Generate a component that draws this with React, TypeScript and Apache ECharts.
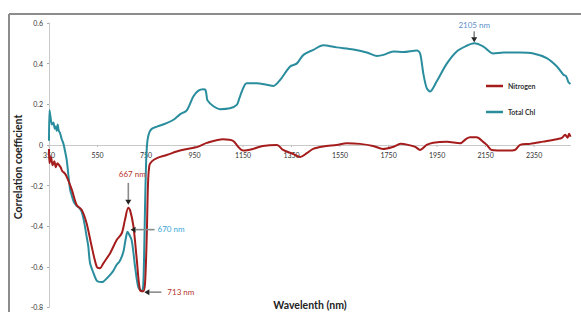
import React, { useEffect, useRef } from "react";
import * as echarts from "echarts";

// ---- Data ----
const wlChl = [
  350, 352, 356, 362, 368, 374, 378, 382, 386, 390, 395, 402, 409, 416, 423, 430, 437, 444, 452, 464,
  475, 485, 495, 505, 512, 519, 533, 545, 553, 565, 574, 590, 602, 615, 629, 640, 650, 658, 663, 670,
  674, 680, 691, 705, 718, 732, 738, 742, 746, 750, 753, 757, 765, 775, 795, 835, 865, 890, 918, 945,
  966, 986, 995, 1000, 1003, 1028, 1055, 1096, 1124, 1135, 1145, 1165, 1206, 1248, 1275, 1303, 1344, 1371, 1399, 1440,
  1481, 1536, 1605, 1660, 1701, 1729, 1770, 1811, 1866, 1880, 1893, 1907, 1921, 1948, 1990, 2031, 2072, 2103, 2141, 2182,
  2223, 2292, 2347, 2402, 2444, 2471, 2480, 2485, 2491, 2500,
];
const totalChl = [
  0.02, 0.17, 0.14, 0.1, 0.11, 0.08, 0.09, 0.07, 0.1, 0.07, 0.06, 0.03, 0.008, -0.03, -0.074, -0.15, -0.22, -0.25, -0.28, -0.3,
  -0.31, -0.33, -0.38, -0.45, -0.5, -0.58, -0.63, -0.665, -0.673, -0.675, -0.673, -0.655, -0.64, -0.62, -0.59, -0.575, -0.55, -0.52, -0.484, -0.44,
  -0.427, -0.44, -0.47, -0.6, -0.7, -0.72, -0.7, -0.55, -0.3, -0.1, -0.02, 0.03, 0.065, 0.08, 0.09, 0.107, 0.125, 0.15, 0.17, 0.238,
  0.267, 0.274, 0.27, 0.24, 0.22, 0.19, 0.176, 0.18, 0.197, 0.23, 0.263, 0.304, 0.304, 0.296, 0.29, 0.32, 0.386, 0.4, 0.443, 0.468,
  0.49, 0.48, 0.47, 0.455, 0.438, 0.443, 0.46, 0.457, 0.465, 0.45, 0.353, 0.28, 0.263, 0.312, 0.4, 0.46, 0.488, 0.5, 0.484, 0.45,
  0.455, 0.455, 0.45, 0.427, 0.386, 0.345, 0.34, 0.33, 0.31, 0.3,
];

const wlN = [
  350, 352, 358, 365, 372, 378, 385, 392, 398, 405, 415, 423, 444, 464, 485, 505, 526, 547, 560, 574,
  602, 629, 650, 663, 677, 684, 698, 712, 725, 739, 746, 753, 758, 764, 775, 795, 835, 890, 952, 973,
  1000, 1068, 1109, 1129, 1150, 1191, 1232, 1290, 1315, 1356, 1385, 1413, 1439, 1480, 1536, 1578, 1632, 1686, 1727, 1768,
  1800, 1830, 1860, 1880, 1907, 1934, 1990, 2045, 2070, 2086, 2113, 2140, 2155, 2175, 2237, 2271, 2292, 2333, 2387, 2444,
  2465, 2478, 2488, 2494, 2500,
];
const nitrogen = [
  -0.02, -0.09, -0.06, -0.1, -0.08, -0.11, -0.09, -0.1, -0.11, -0.13, -0.14, -0.156, -0.22, -0.296, -0.32, -0.386, -0.5, -0.6, -0.607, -0.583,
  -0.533, -0.468, -0.435, -0.37, -0.31, -0.32, -0.4, -0.566, -0.714, -0.72, -0.68, -0.45, -0.2, -0.1, -0.08, -0.065, -0.05, -0.028, -0.013, -0.005,
  0.01, 0.028, 0.02, -0.008, -0.028, -0.02, -0.005, 0, -0.025, -0.044, -0.06, -0.041, -0.02, -0.008, 0, 0.008, 0.005, -0.005, -0.02, -0.01,
  0.005, 0, -0.01, -0.025, 0, 0.011, 0.016, 0.008, 0.03, 0.038, 0.038, 0.015, 0, -0.025, -0.028, -0.025, 0, 0.005, 0.016, 0.028,
  0.035, 0.05, 0.035, 0.055, 0.04,
];

const xTickValues = [350, 550, 750, 950, 1150, 1350, 1550, 1750, 1950, 2150, 2350];
const seriesNames = ["Nitrogen", "Total Chl"];

// Annotated wavelengths: label, series point [wavelength, value]
const annotations = [
  { label: "667 nm", point: [677, -0.31], kind: "down", color: "#b8322c" },
  { label: "670 nm", point: [674, -0.427], kind: "left", color: "#3aa7d8" },
  { label: "713 nm", point: [739, -0.72], kind: "left2", color: "#b8322c" },
  { label: "2105 nm", point: [2103, 0.5], kind: "down2", color: "#5b8fc8" },
];

const FONT = "Lato, 'Liberation Sans', sans-serif";

function arrow(x1: number, y1: number, x2: number, y2: number) {
  const dx = x2 - x1;
  const dy = y2 - y1;
  const len = Math.sqrt(dx * dx + dy * dy) || 1;
  const ux = dx / len;
  const uy = dy / len;
  const hl = 5;
  const hw = 3;
  const bx = x2 - ux * hl;
  const by = y2 - uy * hl;
  return [
    {
      type: "line",
      shape: { x1, y1, x2: bx, y2: by },
      style: { stroke: "#8a8a8a", lineWidth: 1.6 },
      z: 100,
    },
    {
      type: "polygon",
      shape: {
        points: [
          [x2, y2],
          [bx - uy * hw, by + ux * hw],
          [bx + uy * hw, by - ux * hw],
        ],
      },
      style: { fill: "#222" },
      z: 100,
    },
  ];
}

export default function App() {
  const ref = useRef<HTMLDivElement>(null);

  useEffect(() => {
    if (!ref.current) return;
    const chart = echarts.init(ref.current, null, { renderer: "svg" });
    const chlData = wlChl.map((w, i) => [w, totalChl[i]]);
    const nData = wlN.map((w, i) => [w, nitrogen[i]]);

    chart.setOption({
      animation: false,
      backgroundColor: "#ffffff",
      grid: { left: 49, right: 10.5, top: 23, bottom: 4.6, containLabel: false, outerBoundsMode: "none" },
      legend: {
        data: seriesNames,
        orient: "vertical",
        left: 481,
        top: 76,
        icon: "rect",
        itemWidth: 17,
        itemHeight: 2.5,
        itemGap: 16,
        textStyle: { fontSize: 7, fontWeight: "bold", color: "#333", fontFamily: FONT, lineHeight: 10 },
      },
      xAxis: {
        type: "value",
        min: 350,
        max: 2500,
        axisLine: { onZero: true, lineStyle: { color: "#c9c9c9", width: 1 } },
        axisTick: { show: false },
        axisLabel: { show: false },
        splitLine: { show: false },
      },
      yAxis: {
        type: "value",
        min: -0.8,
        max: 0.6,
        interval: 0.2,
        axisLine: { show: true, lineStyle: { color: "#c9c9c9", width: 1 } },
        axisTick: { show: true, length: 2, lineStyle: { color: "#aaa" } },
        axisLabel: {
          fontSize: 7,
          color: "#333",
          fontFamily: FONT,
          margin: 6,
          formatter: (v: number) => (Math.abs(v) < 1e-9 ? "0" : v.toFixed(1)),
        },
        splitLine: { show: false },
      },
      series: [
        {
          name: seriesNames[0],
          type: "line",
          data: nData,
          showSymbol: false,
          smooth: 0.3,
          lineStyle: { color: "#a51c1c", width: 2 },
          itemStyle: { color: "#a51c1c" },
          z: 3,
        },
        {
          name: seriesNames[1],
          type: "line",
          data: chlData,
          showSymbol: false,
          smooth: 0.3,
          lineStyle: { color: "#2a8d9e", width: 2 },
          itemStyle: { color: "#2a8d9e" },
          z: 2,
        },
      ],
    });

    const graphics: any[] = [
      {
        type: "line",
        shape: { x1: 9, y1: 14, x2: 581, y2: 14 },
        style: { stroke: "#8c8c8c", lineWidth: 2 },
      },
      {
        type: "line",
        shape: { x1: 9, y1: 14, x2: 9, y2: 312 },
        style: { stroke: "#8c8c8c", lineWidth: 2 },
      },
      {
        type: "text",
        x: 18,
        y: 167,
        rotation: Math.PI / 2,
        style: {
          text: "Correlation coefficient",
          fontSize: 10.5,
          fontWeight: "bold",
          fontFamily: FONT,
          fill: "#222",
          align: "center",
          verticalAlign: "middle",
        },
      },
      {
        type: "text",
        x: 310,
        y: 305,
        style: {
          text: "Wavelenth (nm)",
          fontSize: 10.5,
          fontWeight: "bold",
          fontFamily: FONT,
          fill: "#222",
          align: "center",
          verticalAlign: "middle",
        },
      },
    ];

    // x-axis tick labels on the zero line, placed with the chart's own scale
    xTickValues.forEach((v) => {
      const p = chart.convertToPixel({ gridIndex: 0 }, [v, 0]) as number[];
      graphics.push({
        type: "line",
        shape: { x1: p[0], y1: p[1], x2: p[0], y2: p[1] + 2 },
        style: { stroke: "#aaa", lineWidth: 1 },
      });
      graphics.push({
        type: "text",
        x: p[0],
        y: p[1] + 10,
        style: {
          text: String(v),
          fontSize: 7,
          fontFamily: FONT,
          fill: "#333",
          align: "center",
          verticalAlign: "middle",
        },
      });
    });

    annotations.forEach((a) => {
      const p = chart.convertToPixel({ gridIndex: 0 }, a.point) as number[];
      const [px, py] = p;
      const textStyle = {
        fontSize: 8,
        fontFamily: FONT,
        fill: a.color,
        verticalAlign: "middle",
      };
      if (a.kind === "down") {
        graphics.push(...arrow(px, py - 25, px, py - 3));
        graphics.push({ type: "text", x: px + 4, y: py - 34, style: { ...textStyle, text: a.label, align: "center" }, z: 100 });
      } else if (a.kind === "down2") {
        graphics.push(...arrow(px, py - 12, px, py - 1));
        graphics.push({ type: "text", x: px, y: py - 18, style: { ...textStyle, text: a.label, align: "center" }, z: 100 });
      } else if (a.kind === "left") {
        graphics.push(...arrow(px + 27, py - 2, px + 3, py - 2));
        graphics.push({ type: "text", x: px + 30, y: py - 3, style: { ...textStyle, text: a.label, align: "left" }, z: 100 });
      } else {
        graphics.push(...arrow(px + 18, py + 1, px + 1, py + 1));
        graphics.push({ type: "text", x: px + 24, y: py + 1, style: { ...textStyle, text: a.label, align: "left" }, z: 100 });
      }
    });

    chart.setOption({ graphic: graphics });

    return () => {
      chart.dispose();
    };
  }, []);

  return (
    <div
      ref={ref}
      style={{ position: "fixed", left: 0, top: 0, width: 581, height: 312, background: "#fff" }}
    />
  );
}
